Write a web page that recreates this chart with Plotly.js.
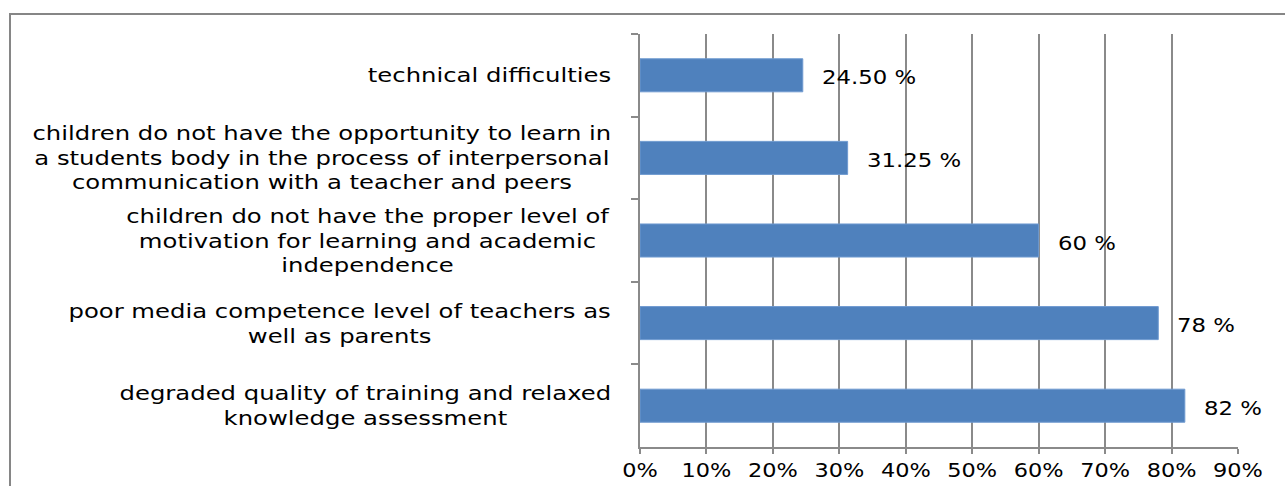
<!DOCTYPE html>
<html>
<head>
<meta charset="utf-8">
<script src="https://cdn.plot.ly/plotly-3.0.1.min.js"></script>
<style>
  html, body { margin: 0; padding: 0; background: #ffffff; }
  #chart { width: 1285px; height: 486px; }
  .stretch-right { transform-box: fill-box; transform-origin: right center; transform: scaleX(1.28); }
  .stretch-left { transform-box: fill-box; transform-origin: left center; transform: scaleX(1.2); }
</style>
</head>
<body>
<div id="chart"></div>
<script>
// Categories, listed top to bottom as in the picture
const categories = [
  "technical difficulties",
  "children do not have the opportunity to learn in<br>a students body in the process of interpersonal<br>communication with a teacher and peers",
  "children do not have the proper level of<br>motivation for learning and academic<br>independence",
  "poor media competence level of teachers as<br>well as parents",
  "degraded quality of training and relaxed<br>knowledge assessment"
];
const values = [0.245, 0.3125, 0.60, 0.78, 0.82];
const valueLabels = ["24.50 %", "31.25 %", "60 %", "78 %", "82 %"];
const tickValues = [0, 0.1, 0.2, 0.3, 0.4, 0.5, 0.6, 0.7, 0.8, 0.9];
const tickLabels = ["0%", "10%", "20%", "30%", "40%", "50%", "60%", "70%", "80%", "90%"];

const FONT = "DejaVu Sans, Verdana, sans-serif";
const GRID = "#8a8a8a";

const trace = {
  type: "bar",
  orientation: "h",
  x: values,
  y: categories,
  marker: { color: "#4f81bd", line: { color: "#6f9ad0", width: 1 } },
  hoverinfo: "skip"
};

const annotations = [];
categories.forEach((c, i) => {
  annotations.push({
    xref: "x", yref: "y", x: 0, y: c,
    text: c, showarrow: false,
    xanchor: "right", yanchor: "middle", align: "center",
    xshift: -27,
    font: { family: FONT, size: 19, color: "#000000" },
    name: "cat"
  });
  annotations.push({
    xref: "x", yref: "y", x: values[i], y: c,
    text: valueLabels[i], showarrow: false,
    xanchor: "left", yanchor: "middle",
    xshift: 17, yshift: -2,
    font: { family: FONT, size: 19, color: "#000000" },
    name: "val"
  });
});

const layout = {
  width: 1285, height: 486,
  margin: { l: 640, r: 47, t: 34, b: 39, pad: 0 },
  paper_bgcolor: "#ffffff",
  plot_bgcolor: "#ffffff",
  showlegend: false,
  bargap: 0.6,
  xaxis: {
    range: [0, 0.9],
    tickvals: tickValues,
    ticktext: tickLabels,
    showgrid: true, gridcolor: GRID, gridwidth: 2,
    zeroline: false,
    showline: true, linecolor: GRID, linewidth: 2,
    ticks: "outside", ticklen: 5, tickcolor: GRID, tickwidth: 2,
    tickfont: { family: FONT, size: 19, color: "#000000" },
    fixedrange: true
  },
  yaxis: {
    type: "category",
    autorange: "reversed",
    showticklabels: false,
    showgrid: false, zeroline: false,
    showline: true, linecolor: GRID, linewidth: 2,
    ticks: "outside", ticklen: 7, tickcolor: GRID, tickwidth: 2,
    tickson: "boundaries",
    fixedrange: true
  },
  annotations: annotations,
  shapes: [{
    type: "rect", xref: "paper", yref: "paper",
    x0: -1.0535, x1: 1.09, y0: -0.2, y1: 1.0484,
    line: { color: "#868686", width: 2 },
    fillcolor: "rgba(0,0,0,0)", layer: "below"
  }]
};

Plotly.newPlot("chart", [trace], layout, { displayModeBar: false, staticPlot: true }).then(gd => {
  // widen the text horizontally, as in the reference
  const annTexts = gd.querySelectorAll(".annotation text.annotation-text");
  annTexts.forEach((t, i) => {
    t.classList.add(i % 2 === 0 ? "stretch-right" : "stretch-left");
  });
  gd.querySelectorAll(".xtick text").forEach(t => {
    const tr = t.getAttribute("transform") || "";
    t.setAttribute("transform", tr + " scale(1.18,1)");
  });
});
</script>
</body>
</html>
